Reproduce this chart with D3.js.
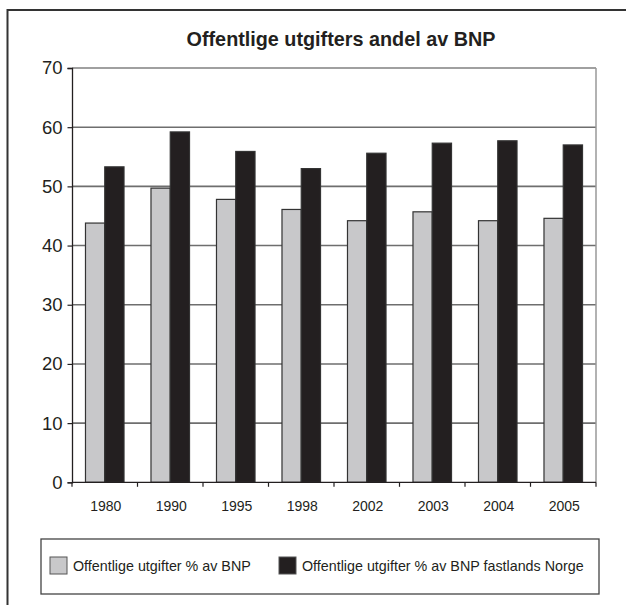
<!DOCTYPE html>
<html>
<head>
<meta charset="utf-8">
<script src="https://cdn.jsdelivr.net/npm/d3@7"></script>
<style>
  html, body { margin: 0; padding: 0; background: #fff; }
  svg { display: block; font-family: Arial, "Liberation Sans", sans-serif; }
</style>
</head>
<body>
<svg id="chart" width="626" height="605"></svg>
<script>
const title = "Offentlige utgifters andel av BNP";
const years = ["1980", "1990", "1995", "1998", "2002", "2003", "2004", "2005"];
const seriesNames = ["Offentlige utgifter % av BNP", "Offentlige utgifter % av BNP fastlands Norge"];
const seriesBNP = [43.8, 49.7, 47.8, 46.1, 44.2, 45.7, 44.2, 44.6];
const seriesFastland = [53.3, 59.2, 55.9, 53.0, 55.6, 57.3, 57.7, 57.0];
const yTicks = [0, 10, 20, 30, 40, 50, 60, 70];
const colors = ["#c8c8ca", "#231f20"];

const svg = d3.select("#chart");
const plot = { left: 72, right: 596, top: 68, bottom: 482.3 };

// outer frame (left and top edges visible)
svg.append("path")
  .attr("d", "M7.5,605 V10 H626")
  .attr("fill", "none").attr("stroke", "#333").attr("stroke-width", 2);

// title
svg.append("text")
  .attr("x", 341).attr("y", 46)
  .attr("text-anchor", "middle")
  .attr("font-size", 19.8).attr("font-weight", "bold").attr("fill", "#231f20")
  .text(title);

const y = d3.scaleLinear().domain([0, 70]).range([plot.bottom, plot.top]);
const x = d3.scaleBand().domain(years).range([plot.left, plot.right]).padding(0);
const x1 = d3.scaleBand().domain([0, 1]).range([0, x.bandwidth()]).paddingInner(0).paddingOuter(0.7);

// gridlines
svg.append("g").selectAll("line")
  .data(yTicks.filter(t => t > 0))
  .join("line")
  .attr("x1", plot.left).attr("x2", plot.right)
  .attr("y1", d => y(d)).attr("y2", d => y(d))
  .attr("stroke", d => d === 70 ? "#808080" : "#6e6e6e")
  .attr("stroke-width", 1.6);

// right plot border
svg.append("line")
  .attr("x1", plot.right).attr("x2", plot.right)
  .attr("y1", plot.top).attr("y2", plot.bottom)
  .attr("stroke", "#999").attr("stroke-width", 1.5);

// bars
const data = years.map((yr, i) => ({ year: yr, values: [seriesBNP[i], seriesFastland[i]] }));
const groups = svg.append("g").selectAll("g")
  .data(data).join("g")
  .attr("transform", d => `translate(${x(d.year)},0)`);
groups.selectAll("rect")
  .data(d => d.values.map((v, k) => ({ k, v })))
  .join("rect")
  .attr("x", d => x1(d.k))
  .attr("width", x1.bandwidth())
  .attr("y", d => y(d.v))
  .attr("height", d => y(0) - y(d.v))
  .attr("fill", d => colors[d.k])
  .attr("stroke", "#333")
  .attr("stroke-width", 1.2);

// y axis
const yAxis = d3.axisLeft(y).tickValues(yTicks).tickSize(4.5).tickPadding(5).tickFormat(d3.format("d"));
const gy = svg.append("g").attr("transform", `translate(${plot.left},0)`).call(yAxis);
gy.select(".domain").attr("stroke", "#231f20").attr("stroke-width", 1.3);
gy.selectAll(".tick line").attr("stroke", "#231f20").attr("stroke-width", 1.2);
gy.selectAll(".tick text").attr("font-size", 18.5).attr("fill", "#231f20")
  .attr("font-family", "Arial, 'Liberation Sans', sans-serif");

// x axis: ticks at category boundaries
const gx = svg.append("g").attr("transform", `translate(0,${plot.bottom})`);
gx.append("line").attr("x1", plot.left).attr("x2", plot.right)
  .attr("stroke", "#231f20").attr("stroke-width", 1.3);
const boundaries = years.map(yv => x(yv)).concat([x(years[years.length - 1]) + x.bandwidth()]);
gx.selectAll("line.tk").data(boundaries).join("line").attr("class", "tk")
  .attr("x1", d => d).attr("x2", d => d).attr("y1", 0).attr("y2", 4.5)
  .attr("stroke", "#231f20").attr("stroke-width", 1.2);
gx.selectAll("text").data(years).join("text")
  .attr("x", d => x(d) + x.bandwidth() / 2 + 1)
  .attr("y", 29)
  .attr("text-anchor", "middle")
  .attr("font-size", 14).attr("fill", "#231f20")
  .text(d => d);

// legend
const lg = svg.append("g");
lg.append("rect").attr("x", 41).attr("y", 539).attr("width", 558).attr("height", 55)
  .attr("fill", "#fff").attr("stroke", "#444").attr("stroke-width", 1.3);
const legendX = [50, 279];
seriesNames.forEach((name, k) => {
  lg.append("rect").attr("x", legendX[k]).attr("y", 557).attr("width", 17).attr("height", 17)
    .attr("fill", colors[k]).attr("stroke", "#555").attr("stroke-width", 1);
  lg.append("text").attr("x", legendX[k] + 23).attr("y", 571)
    .attr("font-size", 14.3).attr("fill", "#231f20").text(name);
});
</script>
</body>
</html>
